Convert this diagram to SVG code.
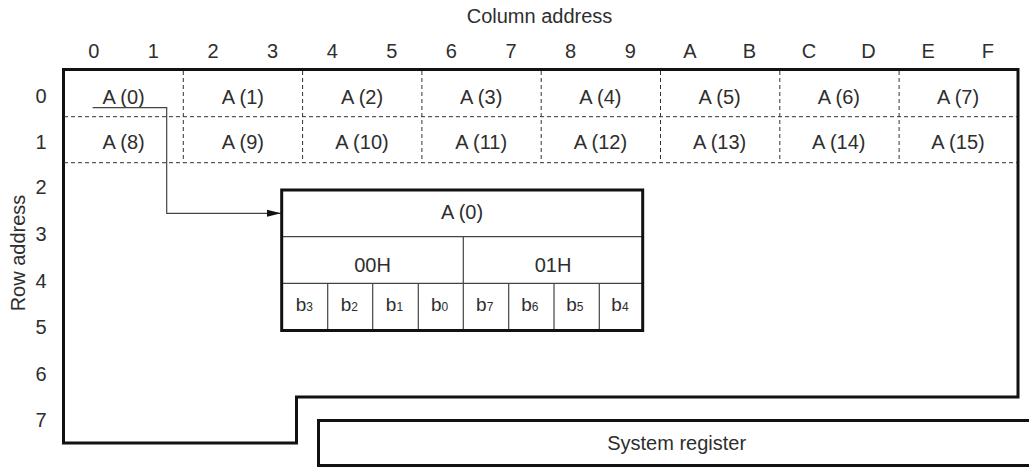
<svg xmlns="http://www.w3.org/2000/svg" width="1029" height="468" viewBox="0 0 1029 468">
<style>
text{font-family:"Liberation Sans",Arial,sans-serif;font-size:20px;fill:#2e2e2e;text-anchor:middle}
.thick{fill:none;stroke:#111;stroke-width:3}
.thin{fill:none;stroke:#444;stroke-width:1.2}
.dash{fill:none;stroke:#333;stroke-width:1;stroke-dasharray:4 3}
.bit{font-size:19px}
.sub{font-size:12px}
</style>
<defs>
<marker id="arr" markerWidth="14" markerHeight="8" refX="14" refY="4" orient="auto" markerUnits="userSpaceOnUse">
<path d="M0,0.5 L14,4 L0,7.5 Z" fill="#111"/>
</marker>
</defs>
<rect width="1029" height="468" fill="#fff"/>

<g id="axis-labels">
<text x="539.5" y="23">Column address</text>
<text x="93.8" y="58">0</text><text x="153.4" y="58">1</text>
<text x="213" y="58">2</text><text x="272.6" y="58">3</text>
<text x="332.2" y="58">4</text><text x="391.8" y="58">5</text>
<text x="451.4" y="58">6</text><text x="511" y="58">7</text>
<text x="570.6" y="58">8</text><text x="630.2" y="58">9</text>
<text x="689.8" y="58">A</text><text x="749.4" y="58">B</text>
<text x="809" y="58">C</text><text x="868.6" y="58">D</text>
<text x="928.2" y="58">E</text><text x="987.8" y="58">F</text>
<text x="41" y="103">0</text><text x="41" y="149">1</text>
<text x="41" y="194">2</text><text x="41" y="241">3</text>
<text x="41" y="288">4</text><text x="41" y="334">5</text>
<text x="41" y="381">6</text><text x="41" y="427">7</text>
<text transform="rotate(-90 25 253)" x="25" y="253">Row address</text>
</g>

<g id="memory-frame">
<path class="thick" d="M63.5,69.5 H1018 V397 H296.5 V443 H63.5 Z"/>
<g id="grid">
<path class="dash" d="M64,116.7 H1017 M64,162.7 H1017"/>
<path class="dash" d="M183.3,71 V162.7 M302.6,71 V162.7 M421.9,71 V162.7 M541.2,71 V162.7 M660.5,71 V162.7 M779.8,71 V162.7 M899.1,71 V162.7"/>
</g>
<g id="cells">
<text x="123.6" y="104">A (0)</text><text x="242.8" y="104">A (1)</text>
<text x="362" y="104">A (2)</text><text x="481.2" y="104">A (3)</text>
<text x="600.4" y="104">A (4)</text><text x="719.6" y="104">A (5)</text>
<text x="838.8" y="104">A (6)</text><text x="958" y="104">A (7)</text>
<text x="123.6" y="149">A (8)</text><text x="242.8" y="149">A (9)</text>
<text x="362" y="149">A (10)</text><text x="481.2" y="149">A (11)</text>
<text x="600.4" y="149">A (12)</text><text x="719.6" y="149">A (13)</text>
<text x="838.8" y="149">A (14)</text><text x="958" y="149">A (15)</text>
</g>
</g>

<g id="connectors">
<path class="thin" d="M92.7,107.7 H166.7 V213.3 H281" marker-end="url(#arr)"/>
</g>

<g id="detail-box">
<path class="thin" d="M282,236.7 H642.7 M282,283.3 H642.7 M463.3,236.7 V330.5 M327.7,283.3 V330.5 M372.7,283.3 V330.5 M418.3,283.3 V330.5 M508.7,283.3 V330.5 M554,283.3 V330.5 M599.3,283.3 V330.5"/>
<rect class="thick" x="281.7" y="190" width="361" height="140.5"/>
<text x="462" y="219">A (0)</text>
<text x="372.5" y="272">00H</text>
<text x="553" y="272">01H</text>
<text class="bit" x="304.3" y="311">b<tspan class="sub">3</tspan></text>
<text class="bit" x="349.4" y="311">b<tspan class="sub">2</tspan></text>
<text class="bit" x="394.5" y="311">b<tspan class="sub">1</tspan></text>
<text class="bit" x="439.6" y="311">b<tspan class="sub">0</tspan></text>
<text class="bit" x="484.7" y="311">b<tspan class="sub">7</tspan></text>
<text class="bit" x="529.8" y="311">b<tspan class="sub">6</tspan></text>
<text class="bit" x="574.9" y="311">b<tspan class="sub">5</tspan></text>
<text class="bit" x="620" y="311">b<tspan class="sub">4</tspan></text>
</g>

<g id="system-register">
<path class="thick" d="M1032,420.5 H318.5 V465.5 H1032"/>
<text x="676.7" y="450">System register</text>
</g>
</svg>
